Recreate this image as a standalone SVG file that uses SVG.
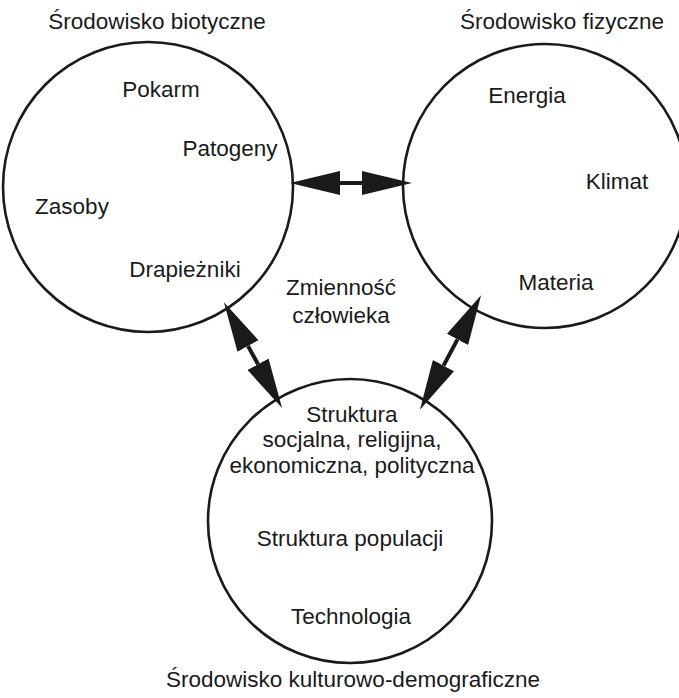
<svg xmlns="http://www.w3.org/2000/svg" width="679" height="698" viewBox="0 0 679 698">
<style>
.c{fill:none;stroke:#1a1a1a;stroke-width:2.6}
.t{font-family:"Liberation Sans",Arial,sans-serif;font-size:22.5px;fill:#1a1a1a;text-anchor:middle}
.a{stroke:#1a1a1a;stroke-width:4;fill:none;marker-start:url(#h);marker-end:url(#h)}
</style>
<defs>
<marker id="h" viewBox="0 0 50 24" refX="0" refY="12" markerWidth="50" markerHeight="24" markerUnits="userSpaceOnUse" orient="auto-start-reverse">
<path d="M0,0 L50,12 L0,24 z" fill="#1a1a1a"/>
</marker>
</defs>
<rect width="679" height="698" fill="#fff"/>
<g id="biotic">
<circle class="c" cx="148" cy="187" r="145"/>
<text class="t" x="157" y="29">Środowisko biotyczne</text>
<text class="t" x="161" y="97">Pokarm</text>
<text class="t" x="230" y="156">Patogeny</text>
<text class="t" x="72" y="214">Zasoby</text>
<text class="t" x="185" y="277">Drapieżniki</text>
</g>
<g id="physical">
<circle class="c" cx="545" cy="186" r="142"/>
<text class="t" x="562" y="29">Środowisko fizyczne</text>
<text class="t" x="527" y="103">Energia</text>
<text class="t" x="617" y="189">Klimat</text>
<text class="t" x="556" y="290">Materia</text>
</g>
<g id="cultural">
<circle class="c" cx="350" cy="521" r="142"/>
<text class="t" x="352" y="422">Struktura</text>
<text class="t" x="352" y="447">socjalna, religijna,</text>
<text class="t" x="352" y="473">ekonomiczna, polityczna</text>
<text class="t" x="350" y="546">Struktura populacji</text>
<text class="t" x="351" y="624">Technologia</text>
<text class="t" x="353" y="687">Środowisko kulturowo-demograficzne</text>
</g>
<g id="center">
<text class="t" x="341" y="295">Zmienność</text>
<text class="t" x="341" y="323">człowieka</text>
</g>
<g id="connectors">
<line class="a" x1="340" y1="183" x2="362" y2="183"/>
<line class="a" x1="248" y1="346" x2="258" y2="364.2"/>
<line class="a" x1="457.5" y1="339.4" x2="443.5" y2="365.6"/>
</g>
</svg>
